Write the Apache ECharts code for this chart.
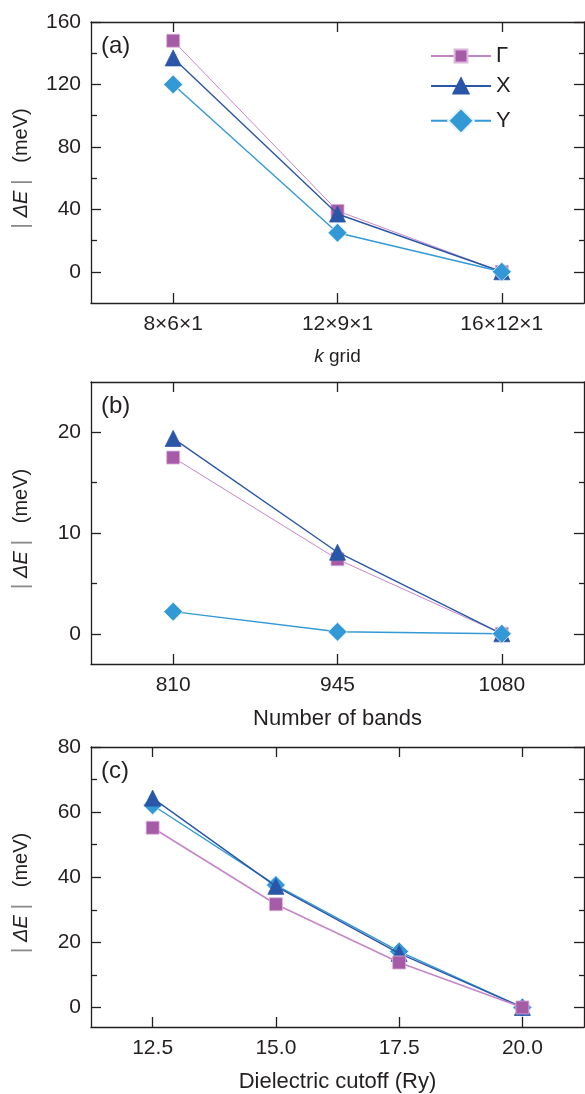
<!DOCTYPE html>
<html>
<head>
<meta charset="utf-8">
<script src="https://cdn.jsdelivr.net/npm/echarts@6/dist/echarts.min.js"></script>
<style>
html,body{margin:0;padding:0;background:#fff;}
#chart{width:585px;height:1094px;}
</style>
</head>
<body>
<div id="chart"></div>
<script>
// ---- data ----
const seriesNames = ['Γ', 'X', 'Y'];

const catsA = ['8×6×1', '12×9×1', '16×12×1'];
const gammaA = [148, 39, 0];
const xA = [137, 37, 0];
const yA = [120, 25, 0];

const catsB = ['810', '945', '1080'];
const gammaB = [17.5, 7.4, 0];
const xB = [19.4, 8.1, 0];
const yB = [2.2, 0.2, 0];

const catsC = ['12.5', '15.0', '17.5', '20.0'];
const gammaC = [55.2, 31.7, 13.8, 0];
const xC = [64.3, 37.2, 16.6, 0];
const yC = [62.1, 37.6, 17.2, 0];

const majorA = [0, 40, 80, 120, 160];
const minorA = [20, 60, 100, 140];
const majorB = [0, 10, 20];
const minorB = [5, 15];
const majorC = [0, 20, 40, 60, 80];
const minorC = [10, 30, 50, 70];

const rangeA = [-20, 160];
const rangeB = [-3, 25];
const rangeC = [-6, 80];

// ---- styling ----
const FONT = 'Liberation Sans';
const TXT = '#231f20';
const AX = '#231f20';
const colors = {
  'Γ': {fill: '#a65ba6', line: '#c586c8', border: '#dcb4dc'},
  'X': {fill: '#2a56a8', line: '#2a56a8', border: '#2a56a8'},
  'Y': {fill: '#3399d6', line: '#3399d6', border: '#e8f4fb'}
};
const symbols = {'Γ': ['rect', 13], 'X': ['triangle', 16], 'Y': ['diamond', 19]};

const panels = [
  {cats: catsA, data: [gammaA, xA, yA], major: majorA, minor: minorA, range: rangeA,
   top: 22, height: 281, label: '(a)', xname: '{it|k} grid', xnameSize: 19, gammaWidth: 1, z: [2, 3, 4]},
  {cats: catsB, data: [gammaB, xB, yB], major: majorB, minor: minorB, range: rangeB,
   top: 382, height: 282, label: '(b)', xname: 'Number of bands', xnameSize: 22, gammaWidth: 1, z: [2, 3, 4]},
  {cats: catsC, data: [gammaC, xC, yC], major: majorC, minor: minorC, range: rangeC,
   top: 747, height: 281, label: '(c)', xname: 'Dielectric cutoff (Ry)', xnameSize: 22, gammaWidth: 1.6, z: [4, 3, 2]}
];

const grid = [], xAxis = [], yAxis = [], series = [], title = [];
const lineStyle = {color: AX, width: 1.3};
const yName = '{bar||} {it|ΔE} {bar||}   (meV)';

panels.forEach((p, i) => {
  grid.push({left: 91, width: 493, top: p.top, height: p.height, containLabel: false});
  title.push({text: p.label, left: 101, top: p.top + 12, padding: 0,
    textStyle: {fontFamily: FONT, fontSize: 24, fontWeight: 'normal', color: TXT}});
  // bottom category axis
  xAxis.push({
    type: 'category', gridIndex: i, position: 'bottom', data: p.cats, boundaryGap: true,
    axisLine: {show: true, onZero: false, lineStyle: lineStyle},
    axisTick: {show: true, inside: true, length: 10, alignWithLabel: true, lineStyle: lineStyle},
    axisLabel: {fontFamily: FONT, fontSize: 21, color: TXT, margin: 11},
    splitLine: {show: false},
    name: p.xname, nameLocation: 'middle', nameGap: 44,
    nameTextStyle: {fontFamily: FONT, fontSize: p.xnameSize, color: TXT,
      rich: {it: {fontFamily: FONT, fontSize: p.xnameSize, fontStyle: 'italic', color: TXT}}}
  });
  // top mirror axis
  xAxis.push({
    type: 'category', gridIndex: i, position: 'top', data: p.cats, boundaryGap: true,
    axisLine: {show: true, onZero: false, lineStyle: lineStyle},
    axisTick: {show: true, inside: true, length: 10, alignWithLabel: true, lineStyle: lineStyle},
    axisLabel: {show: false}, splitLine: {show: false}
  });
  const base = {type: 'value', gridIndex: i, min: p.range[0], max: p.range[1], splitLine: {show: false}};
  // left major
  yAxis.push(Object.assign({}, base, {
    position: 'left',
    axisLine: {show: true, onZero: false, lineStyle: lineStyle},
    axisTick: {show: true, inside: true, length: 10, customValues: p.major, lineStyle: lineStyle},
    axisLabel: {show: true, customValues: p.major, fontFamily: FONT, fontSize: 21, color: TXT, margin: 10},
    name: yName, nameLocation: 'middle', nameGap: 59, nameRotate: 90,
    nameTextStyle: {fontFamily: FONT, fontSize: 20, color: TXT, padding: [0, 12, 0, 0],
      rich: {
        it: {fontFamily: FONT, fontSize: 20, fontStyle: 'italic', color: TXT},
        bar: {fontFamily: FONT, fontSize: 22, color: '#8a8a8a'}
      }}
  }));
  // left minor
  yAxis.push(Object.assign({}, base, {
    position: 'left',
    axisLine: {show: false, onZero: false},
    axisTick: {show: true, inside: true, length: 6, customValues: p.minor, lineStyle: lineStyle},
    axisLabel: {show: false}
  }));
  // right major
  yAxis.push(Object.assign({}, base, {
    position: 'right',
    axisLine: {show: true, onZero: false, lineStyle: lineStyle},
    axisTick: {show: true, inside: true, length: 10, customValues: p.major, lineStyle: lineStyle},
    axisLabel: {show: false}
  }));
  // right minor
  yAxis.push(Object.assign({}, base, {
    position: 'right',
    axisLine: {show: false, onZero: false},
    axisTick: {show: true, inside: true, length: 5, customValues: p.minor, lineStyle: lineStyle},
    axisLabel: {show: false}
  }));

  seriesNames.forEach((name, k) => {
    const c = colors[name];
    const sym = symbols[name];
    series.push({
      type: 'line', name: name, xAxisIndex: 2 * i, yAxisIndex: 4 * i,
      data: p.data[k], symbol: sym[0], symbolSize: sym[1], showSymbol: true,
      z: p.z[k],
      lineStyle: {color: c.line, width: name === 'Γ' ? p.gammaWidth : 1.4},
      itemStyle: {color: c.fill, borderColor: c.border, borderWidth: 0.8},
      emphasis: {disabled: true}, animation: false
    });
  });
});

const legendBase = {orient: 'vertical', left: 430, itemWidth: 60, selectedMode: false, padding: 0,
  textStyle: {fontFamily: FONT, fontSize: 22, color: TXT}};
const legend = [
  Object.assign({}, legendBase, {data: ['Γ'], top: 45, itemHeight: 16}),
  Object.assign({}, legendBase, {data: ['X'], top: 75, itemHeight: 19}),
  Object.assign({}, legendBase, {data: ['Y'], top: 107, itemHeight: 32})
];

const chart = echarts.init(document.getElementById('chart'), null, {renderer: 'canvas'});
chart.setOption({
  backgroundColor: '#fff',
  animation: false,
  title: title,
  grid: grid,
  xAxis: xAxis,
  yAxis: yAxis,
  legend: legend,
  series: series
});
</script>
</body>
</html>
